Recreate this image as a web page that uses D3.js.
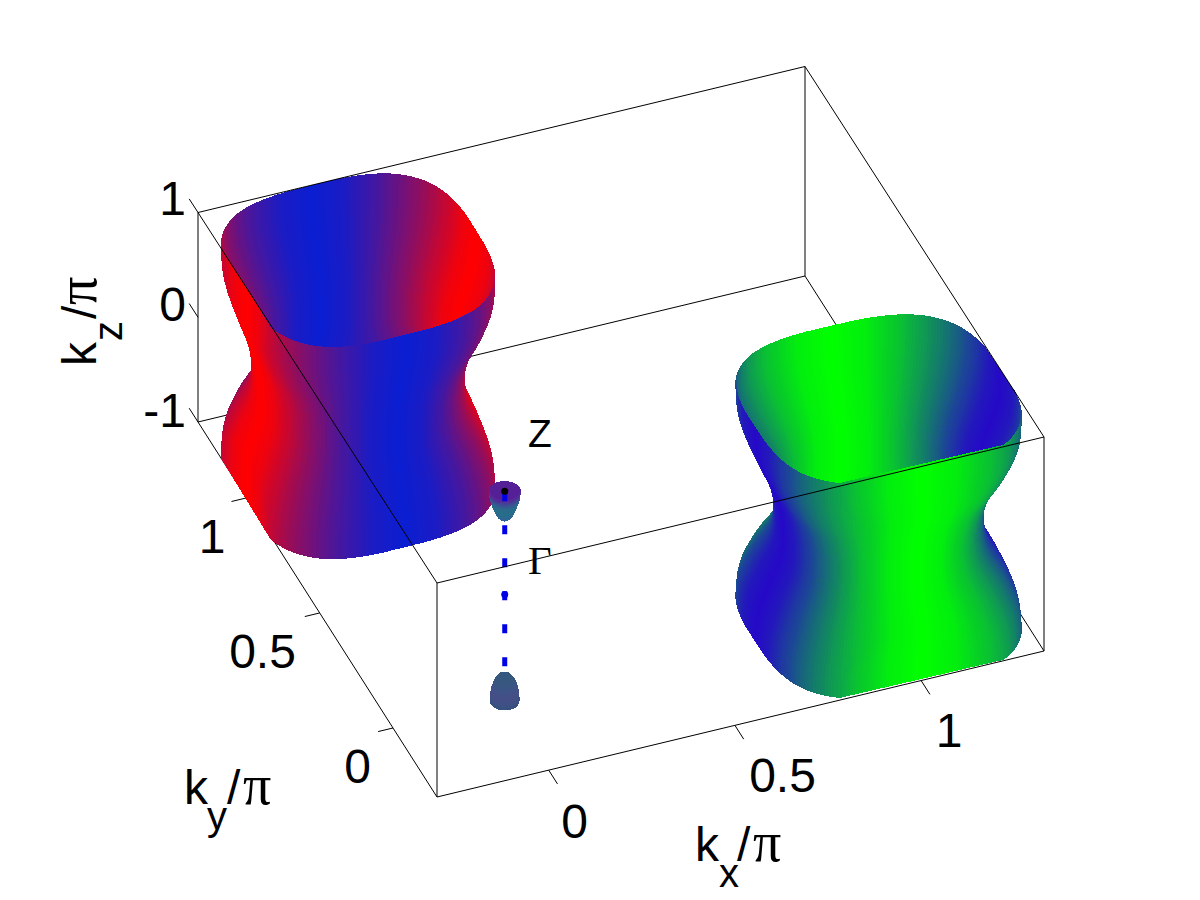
<!DOCTYPE html>
<html>
<head>
<meta charset="utf-8">
<style>html,body{margin:0;padding:0;background:#fff}svg{display:block}</style>
<script src="https://cdn.jsdelivr.net/npm/d3@7"></script>
</head>
<body>
<svg id="c" width="1200" height="900"></svg>
<script>
// ---- data ----
const kDomain = [-0.3, 1.33];
const kzDomain = [-1, 1];
const kxTicks = [0, 0.5, 1];
const kyTicks = [0, 0.5, 1];
const kzTicks = [-1, 0, 1];
const sheetCenters = [[0, 1], [1.002, -.005]];           // (kx, ky) of the two large sheets
const sheetRadiusScale = [.945, .987];
const sheetStretchY = [1.04, .97];
const sheetWaistPower = [1, 1.22];
const sectionAngles = [0, 5, 10, 15, 20, 25, 30, 35, 40, 45];
const sectionRadius = [.335, .336, .340, .345, .351, .358, .365, .371, .375, .376];
const profileKz = [-1, -.75, -.5, -.25, 0, .25, .5, .75, 1];
const profileScale = [1, .98, .90, .79, .765, .81, .91, .985, 1];
const sectionSquareness = [1, 1, .9, .6, .4, .6, .9, 1, 1];
const mixAngles = [0, 15, 30, 45, 60, 75, 90];
const mixValues = [0, .067, .25, .5, .75, .933, 1];
const redSheetColors = ["#ff0000", "#0a1ed2"];
const greenSheetColors = ["#2508c8", "#00ff00"];
const upperKz = [.69, .73, .78, .83, .88, .93, .97];
const upperR = [0, .016, .024, .030, .035, .038, .039];
const upperColors = ["#305aa0", "#30609a", "#2a6a90", "#266e88", "#2a6a8c", "#3d4c94", "#5a2496"];
const upperInnerColor = "#551f98";
const lowerKz = [-1, -.95, -.9, -.85, -.8, -.76, -.74];
const lowerR = [.0357, .0355, .034, .030, .024, .014, 0];
const lowerColors = ["#34527e", "#3e5084", "#464e88", "#3f5288", "#385680", "#36587e", "#36587e"];
const gammaX = 0, gammaY = 0;
const gammaLineKz = [.96, -1];

// ---- projection: three scales along the box edges ----
const origin = [437, 797];
const s = d3.scaleLinear().domain(kDomain).range([0, 1]);
const sz = d3.scaleLinear().domain(kzDomain).range([0, 1]);
const VX = [607, -146], VY = [-239, -375], VZ0 = -214, VZ1 = 4.5;
const WX = 652, WZ = 272, SA = 239 / 652, CA = 607 / 652, SE = .615, CE = .788;
function P(kx, ky, kz) {
  const a = s(kx), b = s(ky), c = sz(kz);
  return [origin[0] + a * VX[0] + b * VY[0],
          origin[1] + a * VX[1] + b * VY[1] + c * (VZ0 + VZ1 * b)];
}
function depth(kx, ky, kz) {
  return -s(kx) * WX * SA * CE - s(ky) * WX * CA * CE + sz(kz) * WZ * SE;
}
// smooth read-through of a table
function spline(xs, ys) {
  return x => {
    let i = d3.bisectRight(xs, x) - 1;
    i = Math.max(0, Math.min(xs.length - 2, i));
    const t = (x - xs[i]) / (xs[i + 1] - xs[i]);
    const p0 = ys[Math.max(0, i - 1)], p1 = ys[i], p2 = ys[i + 1], p3 = ys[Math.min(ys.length - 1, i + 2)];
    return .5 * (2 * p1 + (p2 - p0) * t + (2 * p0 - 5 * p1 + 4 * p2 - p3) * t * t + (3 * p1 - p0 - 3 * p2 + p3) * t * t * t);
  };
}
const sectionFn = spline(sectionAngles, sectionRadius);
const profileFn = spline(profileKz, profileScale);
const squareFn = spline(profileKz, sectionSquareness);
const cornerR = d3.max(sectionRadius);
const mixFn = d3.scaleLinear().domain(mixAngles).range(mixValues);
const clampK = v => Math.max(kDomain[0], Math.min(kDomain[1], v));   // surfaces are clipped by the box
function fold45(deg) { let d = ((deg % 90) + 90) % 90; return d > 45 ? 90 - d : d; }
function fold90(deg) { let d = ((deg % 180) + 180) % 180; return d > 90 ? 180 - d : d; }
function radius(deg, kz, pow) {
  const sect = cornerR - (cornerR - sectionFn(fold45(deg))) * squareFn(kz);
  return sect * Math.pow(profileFn(kz), pow);
}

const svg = d3.select("#c");
const line = d3.line();
function seg(g, a, b, w) {
  g.append("path").attr("d", line([a, b])).attr("stroke", "#000").attr("stroke-width", w || 1).attr("fill", "none");
}
const [k0, k1] = kDomain, [z0, z1] = kzDomain;
const gBack = svg.append("g"), gMesh = svg.append("g"), gLine = svg.append("g"), gFront = svg.append("g"), gText = svg.append("g");

// box edges behind the sheets
[[[k0, k0, z0], [k0, k1, z0]], [[k0, k1, z0], [k1, k1, z0]], [[k1, k1, z0], [k1, k0, z0]],
 [[k0, k1, z0], [k0, k1, z1]], [[k1, k1, z0], [k1, k1, z1]]]
  .forEach(([a, b]) => seg(gBack, P(...a), P(...b)));
// ticks
const TLy = 0.06, TLx = 0.04;
kxTicks.forEach(t => seg(gBack, P(t, k0, z0), P(t, k0 - TLy, z0)));
kyTicks.forEach(t => seg(gBack, P(k0, t, z0), P(k0 - TLx, t, z0)));
kzTicks.forEach(t => seg(gBack, P(k0, k1, t), P(k0, k1 + TLy, t)));

// large sheets
const NT = 288, NZ = 36;
const zAt = i => z0 + (z1 - z0) * i / NZ;
function sheetQuads(idx, colors) {
  const [cx, cy] = sheetCenters[idx], sr = sheetRadiusScale[idx], sy = sheetStretchY[idx], pw = sheetWaistPower[idx];
  const mix = d3.scaleLinear().domain([0, 1]).range(colors);
  const out = [];
  const pt = (j, i) => {
    const deg = 360 * j / NT, kz = zAt(i), r = sr * radius(deg, kz, pw), th = deg * Math.PI / 180;
    return [clampK(cx + r * Math.cos(th)), clampK(cy + r * Math.sin(th)), kz];
  };
  const proj = q => {
    const c = P(cx, cy, q[2]), p = P(...q);
    return [p[0], c[1] + (p[1] - c[1]) * sy];
  };
  for (let j = 0; j < NT; j++) for (let i = 0; i < NZ; i++) {
    const c = [pt(j, i), pt(j + 1, i), pt(j + 1, i + 1), pt(j, i + 1)];
    const m = [d3.mean(c, d => d[0]), d3.mean(c, d => d[1]), d3.mean(c, d => d[2])];
    out.push({ d: line(c.map(proj)) + "Z", z: depth(...m), f: mix(mixFn(fold90(360 * (j + .5) / NT))) });
  }
  return out;
}
// small pockets along Gamma-Z
function pocketQuads(zs, rs, cols, inner) {
  const out = [];
  const rFn = spline(zs, rs);
  const n = 24, m = 36;
  const lo = zs[0], hi = zs[zs.length - 1];
  const col = d3.scaleLinear().domain(zs).range(cols);
  const pt = (j, i) => {
    const kz = lo + (hi - lo) * i / n, r = Math.max(0, rFn(kz)), th = 2 * Math.PI * j / m;
    return [gammaX + r * Math.cos(th), gammaY + r * Math.sin(th), kz];
  };
  for (let j = 0; j < m; j++) for (let i = 0; i < n; i++) {
    const c = [pt(j, i), pt(j + 1, i), pt(j + 1, i + 1), pt(j, i + 1)];
    const me = [d3.mean(c, d => d[0]), d3.mean(c, d => d[1]), d3.mean(c, d => d[2])];
    const farSide = me[0] * SA + me[1] * CA > 0;
    out.push({ d: line(c.map(q => P(...q))) + "Z", z: depth(...me), f: inner && farSide ? inner : col(me[2]) });
  }
  return out;
}
function drawQuads(g, qs) {
  g.append("g").attr("shape-rendering", "crispEdges").selectAll("path")
    .data(qs.sort((a, b) => a.z - b.z)).join("path")
    .attr("d", d => d.d).attr("fill", d => d.f).attr("stroke", d => d.f).attr("stroke-width", 1);
}
drawQuads(gMesh, sheetQuads(0, redSheetColors).concat(sheetQuads(1, greenSheetColors)));
drawQuads(gLine, pocketQuads(upperKz, upperR, upperColors, upperInnerColor));

// dashed Gamma-Z line and markers
gLine.append("path").attr("d", line(gammaLineKz.map(z => P(gammaX, gammaY, z)))).attr("fill", "none")
  .attr("stroke", "#0000e6").attr("stroke-width", 5).attr("stroke-dasharray", "9 24");
const pG = P(gammaX, gammaY, 0), pZ = P(gammaX, gammaY, .97);
gLine.append("circle").attr("cx", pG[0]).attr("cy", pG[1]).attr("r", 3.5).attr("fill", "#0000e6");
gLine.append("circle").attr("cx", pZ[0]).attr("cy", pZ[1]).attr("r", 3.5).attr("fill", "#000");
drawQuads(gLine, pocketQuads(lowerKz, lowerR, lowerColors));

// box edges in front
[[[k0, k0, z0], [k1, k0, z0]], [[k0, k0, z1], [k1, k0, z1]], [[k0, k0, z1], [k0, k1, z1]],
 [[k0, k1, z1], [k1, k1, z1]], [[k1, k1, z1], [k1, k0, z1]],
 [[k0, k0, z0], [k0, k0, z1]], [[k1, k0, z0], [k1, k0, z1]]]
  .forEach(([a, b]) => seg(gFront, P(...a), P(...b)));

// text
const SANS = "'Liberation Sans',Arial,sans-serif", SERIF = "'Liberation Serif','Times New Roman',serif";
function T(x, y, str, size, anchor, fam, rot) {
  const t = gText.append("text").attr("x", x).attr("y", y).text(str)
    .attr("font-size", size).attr("font-family", fam || SANS).attr("text-anchor", anchor || "middle").attr("fill", "#000");
  if (rot) t.attr("transform", `rotate(${rot} ${x} ${y})`);
  return t;
}
const kxLabelPos = [[574.5, 838], [782.5, 792], [949, 747]];
kxTicks.forEach((t, i) => T(kxLabelPos[i][0], kxLabelPos[i][1], String(t), 48));
const kyLabelPos = [[357.5, 783], [262.5, 668], [212, 553]];
kyTicks.forEach((t, i) => T(kyLabelPos[i][0], kyLabelPos[i][1], String(t), 48));
const kzLabelPos = [427, 321, 215];
kzTicks.forEach((t, i) => T(186, kzLabelPos[i], String(t), 48, "end"));

T(695, 861, "k", 48, "start"); T(719, 887, "x", 40, "start"); T(737, 861, "/", 48, "start"); T(753, 861, "π", 56, "start", SERIF);
T(184, 804, "k", 48, "start"); T(207, 830, "y", 40, "start"); T(227, 804, "/", 48, "start"); T(243, 804, "π", 56, "start", SERIF);
T(96, 366, "k", 48, "start", SANS, -90); T(122, 341, "z", 40, "start", SANS, -90);
T(96, 319, "/", 48, "start", SANS, -90); T(96, 305, "π", 56, "start", SERIF, -90);

T(528, 447, "Z", 39, "start");
T(528, 574, "Γ", 41, "start", SERIF);
</script>
</body>
</html>
